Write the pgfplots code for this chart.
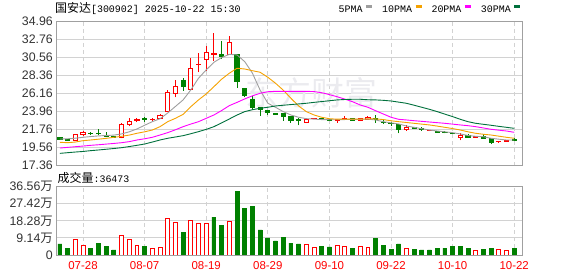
\documentclass[border=0pt]{standalone}
\usepackage{fontspec}
\setmainfont{Liberation Sans}
\newfontfamily\cjk{Noto Sans CJK SC}
\newfontfamily\mono{Liberation Mono}
\usepackage{pgfplots}
\usepackage{pgfplotstable}
\pgfplotsset{compat=1.18}
\definecolor{redc}{HTML}{FF0000}
\definecolor{greenc}{HTML}{008000}
\definecolor{ma5}{HTML}{9E9E9E}
\definecolor{ma10}{HTML}{F5A200}
\definecolor{ma20}{HTML}{FF00FF}
\definecolor{ma30}{HTML}{00703C}
\definecolor{gridc}{HTML}{D2D2D2}
\definecolor{framec}{HTML}{A0A0A0}
\definecolor{labc}{HTML}{333333}
\definecolor{wm}{HTML}{EBEBEF}

\pgfplotstableread{
i o c h l
0 20.78 20.60 20.85 20.55
1 20.52 20.48 20.58 20.42
2 20.42 21.20 21.25 20.40
3 21.15 21.44 21.55 21.05
4 21.34 21.30 21.50 21.10
5 21.36 21.32 21.80 21.10
6 21.11 20.91 21.45 20.82
7 20.92 20.88 20.98 20.80
8 20.78 22.42 22.52 20.70
9 22.37 22.79 23.15 22.20
10 22.88 23.05 23.15 22.68
11 23.10 23.06 23.35 22.68
12 22.98 23.02 23.25 22.75
13 23.11 23.52 23.62 23.05
14 24.05 26.33 26.58 23.96
15 26.21 27.07 27.80 25.72
16 27.84 27.02 28.10 26.53
17 26.70 29.26 30.56 26.58
18 29.70 29.78 31.10 28.78
19 30.36 31.22 32.00 28.97
20 30.93 31.10 33.62 30.20
21 30.93 30.69 32.64 30.40
22 30.93 32.45 33.26 30.90
23 30.93 27.63 30.93 26.90
24 26.86 26.00 26.86 25.72
25 25.48 24.50 25.88 24.17
26 24.54 24.26 24.54 23.47
27 24.08 23.84 24.20 23.60
28 23.80 23.68 23.85 23.62
29 23.72 23.44 23.80 22.86
30 23.44 22.86 23.44 22.62
31 22.98 22.94 23.23 22.30
32 22.62 23.03 23.10 22.55
33 23.12 23.18 23.25 23.05
34 23.09 23.05 23.25 22.90
35 23.03 22.86 23.05 22.82
36 22.88 23.00 23.00 22.60
37 23.08 23.12 23.40 23.05
38 23.19 22.95 23.19 22.90
39 22.86 23.19 23.22 22.80
40 23.07 23.27 23.45 23.00
41 23.12 23.08 23.56 22.62
42 22.68 22.64 22.90 22.44
43 22.56 22.52 22.74 22.22
44 22.42 21.85 22.42 21.32
45 21.76 22.09 22.30 21.64
46 22.09 21.97 22.10 21.95
47 21.93 21.76 22.10 21.65
48 21.62 21.70 21.72 21.58
49 21.60 21.40 21.62 21.38
50 21.42 21.38 21.55 21.30
51 21.33 21.31 21.36 21.29
52 20.78 21.11 21.40 20.46
53 21.07 20.82 21.18 20.78
54 20.84 20.88 21.00 20.75
55 20.99 20.75 21.25 20.70
56 20.66 20.17 20.75 20.05
57 20.32 20.36 20.38 20.15
58 20.34 20.42 20.44 20.32
59 20.54 20.42 20.70 20.35
}\candles

\pgfplotstableread{
i m5 m10 m20 m30
0 20.62 20.22 19.52 18.87
1 20.65 20.17 19.60 18.95
2 20.72 20.25 19.68 19.03
3 20.83 20.42 19.76 19.10
4 20.92 20.50 19.85 19.20
5 21.00 20.60 19.92 19.28
6 21.05 20.70 20.00 19.37
7 21.10 20.83 20.08 19.46
8 21.24 20.95 20.17 19.56
9 21.50 21.10 20.30 19.70
10 21.85 21.32 20.50 19.85
11 22.30 21.50 20.65 20.01
12 22.74 21.72 20.83 20.25
13 23.10 22.13 21.11 20.50
14 23.80 22.74 21.40 20.71
15 24.60 23.15 21.75 20.87
16 25.40 23.64 22.13 21.03
17 26.62 24.57 22.45 21.27
18 28.05 25.40 22.74 21.52
19 29.07 26.13 23.15 21.80
20 30.00 27.02 23.56 22.13
21 30.57 27.93 24.10 22.60
22 30.97 28.66 24.70 23.07
23 30.90 29.27 25.10 23.55
24 30.08 29.18 25.52 23.97
25 28.67 28.97 25.90 24.20
26 26.60 28.78 26.21 24.38
27 25.00 28.17 26.40 24.50
28 24.50 27.44 26.45 24.66
29 23.97 26.60 26.45 24.75
30 23.56 25.60 26.45 24.83
31 23.28 24.66 26.45 24.91
32 23.11 23.97 26.45 24.99
33 23.05 23.56 26.42 25.10
34 23.00 23.28 26.28 25.20
35 22.98 23.10 26.05 25.30
36 22.98 23.05 25.79 25.40
37 23.00 23.05 25.50 25.45
38 23.03 23.05 25.18 25.48
39 23.03 23.05 24.78 25.48
40 23.05 23.08 24.50 25.42
41 22.95 23.08 24.08 25.40
42 22.74 23.00 23.68 25.35
43 22.60 22.85 23.28 25.27
44 22.46 22.74 23.03 25.13
45 22.21 22.64 22.95 24.99
46 22.05 22.54 22.86 24.75
47 21.88 22.44 22.78 24.50
48 21.72 22.34 22.70 24.25
49 21.60 22.20 22.62 23.97
50 21.50 22.05 22.54 23.66
51 21.40 21.90 22.44 23.36
52 21.24 21.72 22.34 23.03
53 21.05 21.50 22.25 22.74
54 20.95 21.32 22.13 22.54
55 20.90 21.20 21.97 22.42
56 20.71 21.11 21.81 22.30
57 20.60 20.97 21.70 22.17
58 20.50 20.83 21.60 22.05
59 20.50 20.71 21.44 21.93
}\mas

\pgfplotstableread{
i v
2 8.4
3 5.2
8 10.5
9 8.4
10 5.2
12 3.6
13 4.1
14 19.6
15 17.5
17 18.5
18 16.9
19 16.9
22 18.0
32 5.7
33 4.1
36 5.2
37 4.8
39 4.6
40 4.1
45 3.6
54 2.5
57 3.0
58 2.5
}\volred

\pgfplotstableread{
i v
0 5.9
1 3.7
4 3.7
5 6.4
6 4.8
7 2.7
11 4.8
16 11.9
20 20.3
21 16.0
23 34.2
24 25.1
25 26.2
26 13.4
27 9.1
28 7.5
29 9.6
30 6.4
31 5.9
34 4.8
35 4.3
38 3.7
41 8.6
42 5.3
43 3.2
44 5.9
46 3.2
47 2.7
48 2.7
49 3.7
50 3.7
51 4.8
52 4.8
53 3.7
55 3.2
56 3.7
59 3.65
}\volgreen

\pgfplotsset{
  kpanel/.style={
    scale only axis, width=466.3bp,
    xmin=-0.507, xmax=60.05,
    xtick={3,11,19,27,35,43,51,59},
    ymajorgrids, xmajorgrids,
    y grid style={draw=gridc, line width=0.9bp},
    x grid style={draw=gridc, line width=0.9bp, dash pattern=on 4bp off 3bp},
    axis line style={draw=framec, line width=1bp},
    major tick length=0pt, tick style={draw=none},
    yticklabel style={font=\fontsize{12.4}{14}\selectfont, text=labc, anchor=east, inner sep=0pt, xshift=-3bp},
  },
  upc/.style={draw=redc, fill=white, line width=0.9bp, solid, mark=none},
  dnc/.style={draw=greenc, fill=greenc, line width=0.9bp, solid, mark=none},
  upw/.style={draw=redc, line width=0.9bp, solid, mark=none},
  dnw/.style={draw=greenc, line width=0.9bp, solid, mark=none},
}

% build the candle plot commands from the table (plain numbers)
\gdef\allcandles{}
\foreach \k in {0,...,59}{%
  \pgfplotstablegetelem{\k}{o}\of\candles \let\cO\pgfplotsretval
  \pgfplotstablegetelem{\k}{c}\of\candles \let\cC\pgfplotsretval
  \pgfplotstablegetelem{\k}{h}\of\candles \let\cH\pgfplotsretval
  \pgfplotstablegetelem{\k}{l}\of\candles \let\cL\pgfplotsretval
  \pgfmathsetmacro\cLo{min(\cO,\cC)}%
  \pgfmathsetmacro\cHi{max(\cO,\cC)}%
  \pgfmathsetmacro\xa{\k-0.27}%
  \pgfmathsetmacro\xb{\k+0.27}%
  \pgfmathtruncatemacro\cDn{\cC<\cO}%
  \xdef\allcandles{\unexpanded\expandafter{\allcandles}%
    \noexpand\addplot[forget plot, \ifnum\cDn=1 dnw\else upw\fi] coordinates {(\k,\cL) (\k,\cH)};%
    \noexpand\addplot[forget plot, \ifnum\cDn=1 dnc\else upc\fi] coordinates {(\xa,\cLo) (\xb,\cLo) (\xb,\cHi) (\xa,\cHi)} --cycle;}%
}

\begin{document}
\begin{tikzpicture}
\path[use as bounding box] (0,0) rectangle (578bp,276bp);

\begin{axis}[
  kpanel,
  at={(56bp,110.3bp)}, anchor=south west, height=144bp,
  ymin=17.36, ymax=34.96,
  xticklabels={},
  ytick={17.36,19.56,21.76,23.96,26.16,28.36,30.56,32.76,34.96},
  yticklabels={17.36,19.56,21.76,23.96,26.16,28.36,30.56,32.76,34.96},
  legend style={at={(0.6063,1.0854)}, anchor=west, draw=none, fill=none,
    inner sep=0pt, outer sep=0pt,
    font=\mono\fontsize{10}{12}\selectfont,
    /tikz/every odd column/.append style={column sep=2bp},
    /tikz/every even column/.append style={column sep=8.5bp},
    nodes={inner sep=0pt}},
  legend columns=-1,
  legend plot pos=right,
  legend image code/.code={\draw[#1, line width=3bp] (0bp,3.3bp) -- (6bp,3.3bp);},
]
\node[text=wm, font=\cjk\fontsize{33}{33}\selectfont] at (axis cs:32.7,26.25) {东方财富};

\allcandles

\addplot[draw=ma5, line width=0.9bp, mark=none] table[x=i, y=m5] {\mas};
\addlegendentry{5PMA}
\addplot[draw=ma10, line width=0.9bp, mark=none] table[x=i, y=m10] {\mas};
\addlegendentry{10PMA}
\addplot[draw=ma20, line width=0.9bp, mark=none] table[x=i, y=m20] {\mas};
\addlegendentry{20PMA}
\addplot[draw=ma30, line width=0.9bp, mark=none] table[x=i, y=m30] {\mas};
\addlegendentry{30PMA}
\end{axis}

\begin{axis}[
  kpanel,
  at={(56bp,21bp)}, anchor=south west, height=68.3bp,
  ymin=0, ymax=36.56,
  ytick={0,9.14,18.28,27.42,36.56},
  yticklabels={0,9.14{\cjk 万},18.28{\cjk 万},27.42{\cjk 万},36.56{\cjk 万}},
  xticklabels={07-28,08-07,08-19,08-29,09-10,09-22,10-10,10-22},
  xticklabel style={font=\fontsize{11.5}{13}\selectfont, text=redc, anchor=north, inner sep=0pt, yshift=-6.7bp},
  ybar, bar width=3.9bp, bar shift=0pt,
]
\addplot[draw=redc, fill=white, line width=0.9bp] table[x=i, y=v] {\volred};
\addplot[draw=greenc, fill=greenc, line width=0.9bp] table[x=i, y=v] {\volgreen};
\end{axis}

\node[anchor=base west, inner sep=0pt] at (55bp,263.3bp)
  {{\cjk\fontsize{12}{12}\selectfont 国安达}{\mono\fontsize{10}{12}\selectfont [300902] 2025-10-22 15:30}};
\node[anchor=base west, inner sep=0pt] at (57.5bp,93bp)
  {{\cjk\fontsize{12}{12}\selectfont 成交量}{\mono\fontsize{10}{12}\selectfont :36473}};
\end{tikzpicture}
\end{document}
